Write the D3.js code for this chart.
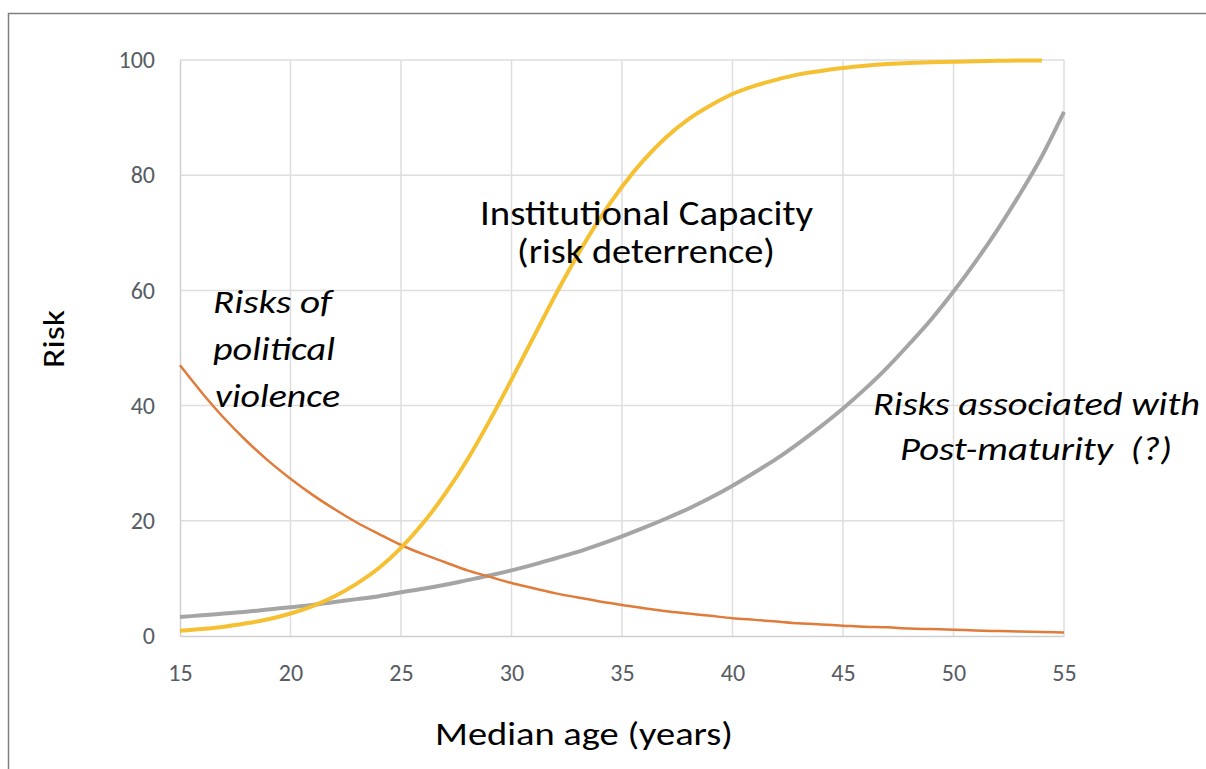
<!DOCTYPE html>
<html>
<head>
<meta charset="utf-8">
<script src="https://cdn.jsdelivr.net/npm/d3@7"></script>
<style>
  body { margin: 0; background: #fff; }
  svg { display: block; font-family: Carlito, Calibri, Lato, sans-serif; }
</style>
</head>
<body>
<svg id="chart" width="1206" height="769"></svg>
<script>
// ages (x) for each series
const ages = d3.range(15, 56)
const agesCapacity = d3.range(15, 55)

// Risks of political violence (orange)
const violence = [47.0, 42.2, 37.8, 33.9, 30.4, 27.3, 24.5, 22.0, 19.7, 17.7,
  15.8, 14.2, 12.8, 11.4, 10.3, 9.2, 8.3, 7.4, 6.7, 6.0,
  5.4, 4.8, 4.3, 3.9, 3.5, 3.1, 2.8, 2.5, 2.2, 2.0,
  1.8, 1.6, 1.5, 1.3, 1.2, 1.1, 0.95, 0.85, 0.77, 0.69, 0.62]

// Risks associated with post-maturity (grey)
const postMaturity = [3.3, 3.6, 3.9, 4.2, 4.6, 5.0, 5.4, 5.9, 6.4, 6.9,
  7.6, 8.2, 8.9, 9.7, 10.5, 11.4, 12.4, 13.5, 14.6, 15.9,
  17.3, 18.8, 20.4, 22.1, 24.0, 26.1, 28.4, 30.8, 33.5, 36.4,
  39.5, 42.9, 46.6, 50.7, 55.0, 59.8, 65.0, 70.6, 76.7, 83.3, 91.0]

// Institutional capacity (yellow), ends at 54
const capacity = [0.9, 1.2, 1.6, 2.2, 2.9, 3.9, 5.2, 6.9, 9.1, 11.8,
  15.3, 19.6, 24.7, 30.6, 37.3, 44.5, 51.9, 59.3, 66.2, 72.5,
  78.0, 82.7, 86.6, 89.7, 92.1, 94.1, 95.5, 96.6, 97.5, 98.1,
  98.6, 99.0, 99.3, 99.5, 99.6, 99.7, 99.8, 99.85, 99.9, 99.9]

const xTicks = [15, 20, 25, 30, 35, 40, 45, 50, 55]
const yTicks = [0, 20, 40, 60, 80, 100]

const margin = { top: 60, right: 142, bottom: 133, left: 180 }
const width = 1206
const height = 769

const svg = d3.select('#chart')

/* outer frame */
svg.append('path')
  .attr('d', `M8.5,${height} V13.5 H${width}`)
  .attr('fill', 'none')
  .attr('stroke', '#808080')
  .attr('stroke-width', 1.5)

const x = d3.scaleLinear().domain([15, 55]).range([margin.left, width - margin.right])
const y = d3.scaleLinear().domain([0, 100]).range([height - margin.bottom, margin.top])

/* grid */
svg.append('g')
  .selectAll('line')
  .data(xTicks.slice(1))
  .join('line')
  .attr('x1', (d) => x(d)).attr('x2', (d) => x(d))
  .attr('y1', y(0)).attr('y2', y(100))
  .attr('stroke', '#dedede').attr('stroke-width', 1.5)

svg.append('g')
  .selectAll('line')
  .data(yTicks.slice(1))
  .join('line')
  .attr('x1', x(15)).attr('x2', x(55))
  .attr('y1', (d) => y(d)).attr('y2', (d) => y(d))
  .attr('stroke', '#dedede').attr('stroke-width', 1.5)

/* axes */
const yAxis = svg.append('g')
  .attr('transform', `translate(${x(15)},0)`)
  .call(d3.axisLeft(y).tickValues(yTicks).tickSize(0).tickPadding(25))
yAxis.select('.domain').attr('stroke', '#cfcfcf').attr('stroke-width', 1.5)

const xAxis = svg.append('g')
  .attr('transform', `translate(0,${y(0)})`)
  .call(d3.axisBottom(x).tickValues(xTicks).tickSize(0).tickPadding(28))
xAxis.select('.domain').attr('stroke', '#cfcfcf').attr('stroke-width', 1.5)

svg.selectAll('.tick text')
  .attr('font-family', 'Carlito, Calibri, Lato, sans-serif')
  .attr('font-size', 24)
  .attr('fill', '#575c63')

/* series */
const line = (xs) => d3.line()
  .x((d, i) => x(xs[i]))
  .y((d) => y(d))
  .curve(d3.curveMonotoneX)

svg.append('path')
  .datum(postMaturity)
  .attr('fill', 'none')
  .attr('stroke', '#a5a5a5')
  .attr('stroke-width', 4)
  .attr('d', line(ages))

svg.append('path')
  .datum(violence)
  .attr('fill', 'none')
  .attr('stroke', '#e07b3a')
  .attr('stroke-width', 2.5)
  .attr('d', line(ages))

svg.append('path')
  .datum(capacity)
  .attr('fill', 'none')
  .attr('stroke', '#f5c133')
  .attr('stroke-width', 4)
  .attr('d', line(agesCapacity))

/* annotations */
const note = (txt, px, py, len, size, italic) =>
  svg.append('text')
    .attr('x', px).attr('y', py)
    .attr('font-size', size)
    .attr('font-style', italic ? 'italic' : 'normal')
    .attr('fill', '#000')
    .style('white-space', 'pre')
    .attr('textLength', len)
    .attr('lengthAdjust', 'spacingAndGlyphs')
    .text(txt)

note('Institutional Capacity', 480, 225, 333, 34, false)
note('(risk deterrence)', 517, 263, 258, 34, false)

note('Risks of', 213, 313, 119, 32, true)
note('political', 213, 360, 122, 32, true)
note('violence', 215, 407, 125, 32, true)

note('Risks associated with', 873, 415, 327, 32, true)
note('Post-maturity  (?)', 900, 460, 272, 32, true)

/* axis titles */
note('Median age (years)', 435, 745, 298, 32, false)

svg.append('text')
  .attr('transform', 'translate(64,339) rotate(-90)')
  .attr('text-anchor', 'middle')
  .attr('font-size', 30)
  .attr('fill', '#000')
  .attr('textLength', 58)
  .attr('lengthAdjust', 'spacingAndGlyphs')
  .text('Risk')
</script>
</body>
</html>
